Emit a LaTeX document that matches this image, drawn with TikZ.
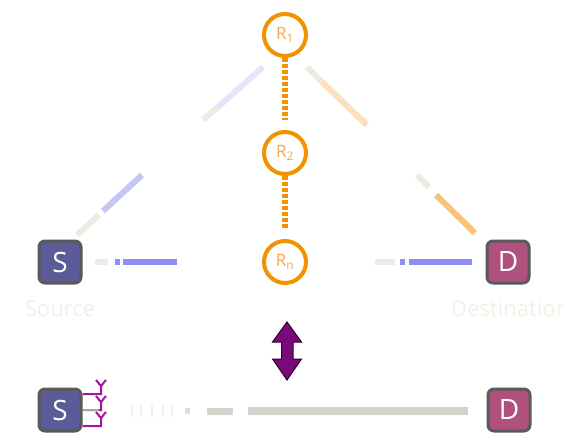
\documentclass[tikz,border=0pt]{standalone}
\usepackage{fontspec}
\setmainfont{Open Sans}
\usetikzlibrary{calc}

\definecolor{srcfill}{HTML}{5B5B98}
\definecolor{dstfill}{HTML}{B0507E}
\definecolor{boxedge}{HTML}{5A5A5A}
\definecolor{relayorange}{HTML}{F39200}
\definecolor{relaytext}{HTML}{F2AA50}
\definecolor{fadetext}{HTML}{F1F1E8}
\definecolor{fadegray}{HTML}{ECECE5}
\definecolor{lavpale}{HTML}{E5E5F7}
\definecolor{lavmid}{HTML}{C6C6F6}
\definecolor{flowblue}{HTML}{8E8EF4}
\definecolor{orangepale}{HTML}{FBE0BB}
\definecolor{orangemid}{HTML}{F8C47A}
\definecolor{linkgray}{HTML}{D4D4CC}
\definecolor{antennapurple}{HTML}{A2179C}
\definecolor{arrowpurple}{HTML}{7A0A7A}
\definecolor{arrowedge}{HTML}{2E002E}

\tikzset{
  endpoint/.style={draw=boxedge, line width=3pt, rounded corners=6pt,
    minimum size=42pt, inner sep=0pt, text=white,
    font=\fontsize{28}{28}\selectfont},
  relay/.style={circle, draw=relayorange, line width=4pt, fill=white,
    minimum size=42pt, inner sep=0pt, text=relaytext,
    font=\fontsize{17}{17}\selectfont},
  relaylink/.style={draw=relayorange, line width=6pt,
    dash pattern=on 4pt off 2pt, shorten >=10pt},
  caption/.style={text=fadetext, font=\fontsize{22}{22}\selectfont, inner sep=0pt},
  flow/.style={line width=6pt},
  antenna/.style={draw=antennapurple, line width=2pt},
}

\begin{document}
\begin{tikzpicture}[x=1pt, y=-1pt]
\clip (0,0) rectangle (563,436);
\fill[white] (0,0) rectangle (563,436);

% relay chain
\node[relay] (R1) at (285,35) {R\textsubscript{1}};
\node[relay] (R2) at (285,153) {R\textsubscript{2}};
\node[relay] (Rn) at (285,262) {R\textsubscript{n}};
\draw[relaylink] (R1) -- (R2);
\draw[relaylink] (R2) -- (Rn);

% source and destination (relayed link)
\node[endpoint, fill=srcfill] (S) at (60,262) {S};
\node[endpoint, fill=dstfill] (D) at (508,262) {D};
\node[caption] (Slab) at (60,309) {Source};
\node[caption, anchor=west] (Dlab) at (451,309) {Destination};

% flow pieces on the S -> R1 hop
\coordinate (sa0) at (77,235);
\coordinate (sa1) at (99,215);
\coordinate (sa2) at (103,211);
\coordinate (sa3) at (142,175);
\coordinate (sb0) at (203,120);
\coordinate (sb1) at (218,107);
\coordinate (sb2) at (263,67);
\draw[flow, fadegray] (sa0) -- (sa1);
\draw[flow, lavmid] (sa2) -- (sa3);
\draw[flow, fadegray] (sb0) -- (sb1);
\draw[flow, lavpale] (sb1) -- (sb2);

% flow pieces on the R1 -> D hop
\coordinate (da0) at (307,67);
\coordinate (da1) at (322,82);
\coordinate (da2) at (367,125);
\coordinate (db0) at (417,175);
\coordinate (db1) at (429,187);
\coordinate (db2) at (436,195);
\coordinate (db3) at (475,233);
\draw[flow, fadegray] (da0) -- (da1);
\draw[flow, orangepale] (da1) -- (da2);
\draw[flow, fadegray] (db0) -- (db1);
\draw[flow, orangemid] (db2) -- (db3);

% flow pieces on the S -> Rn and Rn -> D hops
\coordinate (ha0) at (95,262);
\coordinate (ha1) at (108,262);
\coordinate (ha2) at (115,262);
\coordinate (ha3) at (120,262);
\coordinate (ha4) at (123,262);
\coordinate (ha5) at (177,262);
\draw[flow, fadegray] (ha0) -- (ha1);
\draw[flow, flowblue] (ha2) -- (ha3);
\draw[flow, flowblue] (ha4) -- (ha5);
\coordinate (hb0) at (375,262);
\coordinate (hb1) at (395,262);
\coordinate (hb2) at (400,262);
\coordinate (hb3) at (405,262);
\coordinate (hb4) at (409,262);
\coordinate (hb5) at (472,262);
\draw[flow, fadegray] (hb0) -- (hb1);
\draw[flow, flowblue] (hb2) -- (hb3);
\draw[flow, flowblue] (hb4) -- (hb5);

% equivalence arrow
\coordinate (eqtop) at (287,322);
\coordinate (eqbot) at (287,380);
\filldraw[fill=arrowpurple, draw=arrowedge, line width=1pt, line join=miter]
  (eqtop) -- (301.5,342) -- (293,342) -- (293,359) -- (301.5,359)
  -- (eqbot) -- (272.5,359) -- (281.5,359) -- (281.5,342) -- (272.5,342) -- cycle;

% direct multi-antenna link
\node[endpoint, fill=srcfill] (S2) at (60,410) {S};
\node[endpoint, fill=dstfill] (D2) at (509,410) {D};
\foreach \dy/\col in {-16/antennapurple, 0/antennapurple, 16/antennapurple} {
  \draw[antenna, draw=\col] ($(S2.east)+(0,\dy)$) -- ++(18.5,0) -- ++(0,-8)
    -- ++(-5,-6) ++(5,6) -- ++(5,-6);
}
\draw[line width=2pt, draw=gray!70] (S2.east) -- ++(16,0);

\foreach \x in {132,141,152,163,172}
  \draw[line width=1.5pt, draw=black!6] (\x,405) -- (\x,417);
\coordinate (ba0) at (185,411);
\coordinate (ba1) at (190,411);
\coordinate (ba2) at (207,411);
\coordinate (ba3) at (233,411);
\coordinate (ba4) at (248,411);
\coordinate (ba5) at (468,411);
\draw[line width=6pt, draw=linkgray!80] (ba0) -- (ba1);
\draw[line width=7pt, draw=linkgray] (ba2) -- (ba3);
\draw[line width=8pt, draw=linkgray] (ba4) -- (ba5);
\end{tikzpicture}
\end{document}
